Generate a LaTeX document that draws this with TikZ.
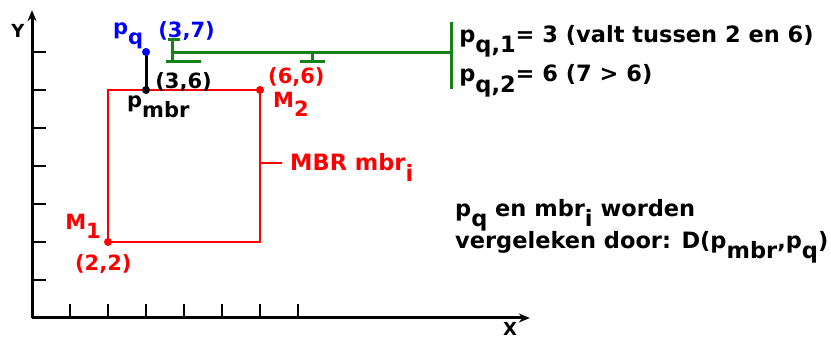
\documentclass[tikz,border=0pt]{standalone}
\usepackage{fontspec}
\setmainfont{DejaVu Sans}
\usetikzlibrary{arrows.meta}
\definecolor{mbrred}{RGB}{255,0,0}
\definecolor{pqblue}{RGB}{0,0,255}
\definecolor{barsgreen}{RGB}{20,130,20}
\newcommand{\lo}[1]{\raisebox{-0.45em}{#1}}
\tikzset{
  lbl/.style={anchor=base west, inner sep=0pt, font=\fontsize{21}{24}\selectfont\bfseries},
  txt/.style={anchor=base west, inner sep=0pt, font=\fontsize{22.5}{26}\selectfont\bfseries},
  axlbl/.style={anchor=center, inner sep=0pt, font=\fontsize{18}{20}\selectfont\bfseries},
  axis/.style={line width=3pt, -{Stealth[length=11pt,width=9pt]}},
  tick/.style={line width=2.6pt},
  dot/.style={circle, fill, inner sep=0pt, minimum size=8pt}
}
\begin{document}
\begin{tikzpicture}[x=38pt,y=38pt]
\useasboundingbox (-0.8421,-0.5789) rectangle (21.026,8.368);

\coordinate (O) at (0,0);
\coordinate (Xend) at (13.1,0);
\coordinate (Yend) at (0,8.1);
\coordinate (M1) at (2,2);
\coordinate (M2) at (6,6);
\coordinate (Pmbr) at (3,6);
\coordinate (Pq) at (3,7);
\coordinate (G1) at (3.71,6.98);
\coordinate (G2) at (11.03,6.98);
\coordinate (Gm) at (7.37,6.98);
\coordinate (Mside) at (6,4.08);
\coordinate (Mlbl) at (6.58,4.08);

\draw[axis] (O) -- (Xend);
\draw[axis] (O) -- (Yend);
\foreach \i in {1,...,7} {
  \draw[tick] (\i,0) -- (\i,0.38);
  \draw[tick] (0,\i) -- (0.38,\i);
}
\node[axlbl] (ylbl) at (-0.37,7.55) {Y};
\node[axlbl] (xlbl) at (12.58,-0.29) {X};

\draw[mbrred, line width=2pt] (M1) rectangle (M2);
\draw[mbrred, line width=2pt] (Mside) -- (Mlbl);
\draw[line width=3pt] (Pmbr) -- (Pq);

\draw[barsgreen, line width=3pt] (G1) -- (G2);
\draw[barsgreen, line width=3pt] (3.71,7.34) -- (3.71,6.74);
\draw[barsgreen, line width=3pt] (3.58,7.34) -- (3.89,7.34);
\draw[barsgreen, line width=3pt] (3.53,6.74) -- (4.45,6.74);
\draw[barsgreen, line width=3pt] (Gm) -- (7.37,6.74);
\draw[barsgreen, line width=3pt] (7.05,6.74) -- (7.71,6.74);
\draw[barsgreen, line width=3pt] (11.03,6.03) -- (11.03,7.79);

\node[dot, mbrred] (m1dot) at (M1) {};
\node[dot, mbrred] (m2dot) at (M2) {};
\node[dot] (pmbrdot) at (Pmbr) {};
\node[dot, pqblue] (pqdot) at (Pq) {};

\node[lbl, pqblue] (pq) at (2.13,7.45) {p\lo{q}};
\node[lbl, pqblue] (pqc) at (3.32,7.39) {(3,7)};
\node[lbl] (pmbrc) at (3.24,6.04) {(3,6)};
\node[lbl] (pmbr) at (2.5,5.53) {p\lo{mbr}};
\node[lbl, mbrred] (m2c) at (6.21,6.18) {(6,6)};
\node[lbl, mbrred] (m2) at (6.34,5.55) {M\lo{2}};
\node[lbl, mbrred] (m1) at (0.87,2.34) {M\lo{1}};
\node[lbl, mbrred] (m1c) at (1.13,1.26) {(2,2)};
\node[txt, mbrred] (mbr) at (6.79,3.87) {MBR mbr\lo{i}};

\node[txt] (pq1) at (11.24,7.26) {p\lo{q,1}= 3 (valt tussen 2 en 6)};
\node[txt] (pq2) at (11.24,6.21) {p\lo{q,2}= 6 (7 > 6)};
\node[txt] (cmp1) at (11.13,2.68) {p\lo{q} en mbr\lo{i} worden};
\node[txt] (cmp2) at (11.13,1.84) {vergeleken door: D(p\lo{mbr},p\lo{q})};
\end{tikzpicture}
\end{document}
